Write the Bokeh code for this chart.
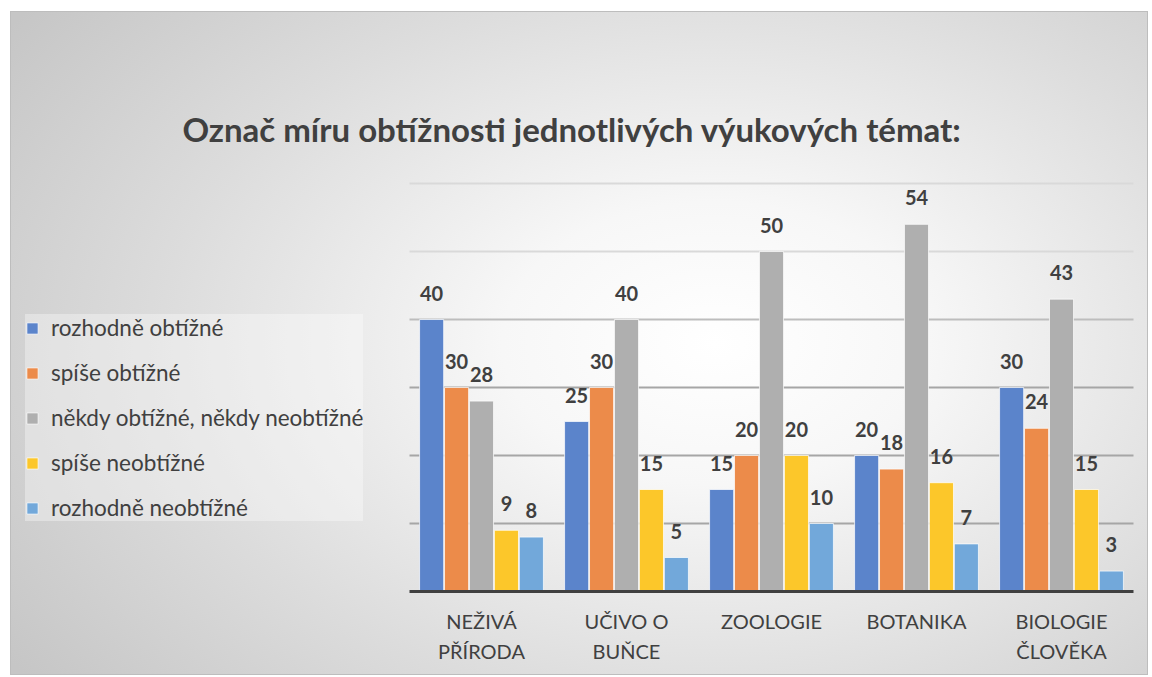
from bokeh.plotting import figure
from bokeh.models import (Range1d, ColumnDataSource, Legend, LegendItem,
                          FixedTicker, Grid)
from bokeh.transform import dodge
from bokeh.core.properties import value
from bokeh.embed import file_html
from bokeh.resources import INLINE

categories = ["NEŽIVÁ\nPŘÍRODA", "UČIVO O\nBUŇCE", "ZOOLOGIE", "BOTANIKA", "BIOLOGIE\nČLOVĚKA"]
series_names = ["rozhodně obtížné", "spíše obtížné", "někdy obtížné, někdy neobtížné",
                "spíše neobtížné", "rozhodně neobtížné"]
rozhodne_obtizne = [40, 25, 15, 20, 30]
spise_obtizne = [30, 30, 20, 18, 24]
nekdy = [28, 40, 50, 54, 43]
spise_neobtizne = [9, 15, 20, 16, 15]
rozhodne_neobtizne = [8, 5, 10, 7, 3]
title_text = "Označ míru obtížnosti jednotlivých výukových témat:"
grid_ticks_dark = [10, 20, 30]
grid_ticks_mid = [40]
grid_ticks_light = [50, 60]

colors = ["#5B84CB", "#EC8B4A", "#AFAFAF", "#FCC72A", "#72A8DA"]
series = [rozhodne_obtizne, spise_obtizne, nekdy, spise_neobtizne, rozhodne_neobtizne]
keys = ["s0", "s1", "s2", "s3", "s4"]

idx = list(range(len(categories)))
data = {"xi": idx}
for k, s in zip(keys, series):
    data[k] = s
    data[k + "_lbl"] = [str(v) for v in s]
src = ColumnDataSource(data)

FONT = "Lato"
TXT = "#404040"

# canvas geometry (figure shifted by CSS margin to 10, 11)
W, H = 1138, 664
PX_PER_CAT = 145.0
X0 = 471.0           # canvas x of first category centre
FR = 1123            # frame right (canvas)
FB = 580             # frame bottom (canvas)
PX_PER_UNIT_Y = 6.8
Y_END = 60.3
FT = FB - PX_PER_UNIT_Y * Y_END

p = figure(width=W, height=H,
           x_range=Range1d(-X0 / PX_PER_CAT, (FR - X0) / PX_PER_CAT),
           y_range=Range1d(0, Y_END),
           output_backend="svg", toolbar_location=None,
           min_border_left=0, min_border_right=W - FR,
           min_border_top=int(round(FT)), min_border_bottom=H - FB)
p.border_fill_color = None
p.background_fill_color = None
p.outline_line_color = None
p.styles = {
    "margin-left": "10px",
    "margin-top": "11px",
    "background": "radial-gradient(ellipse 75% 85% at 62% 50%, #ffffff 0%, #f7f7f7 25%, #dcdcdc 65%, #c6c6c6 100%)",
    "box-shadow": "inset 0 0 0 1px #bdbdbd",
}

p.xgrid.visible = False
p.ygrid.visible = False
for ticks, col in [(grid_ticks_dark, "#a6a6a6"), (grid_ticks_mid, "#bdbdbd"), (grid_ticks_light, "#d9d9d9")]:
    g = Grid(dimension=1, ticker=FixedTicker(ticks=ticks), grid_line_color=col,
             grid_line_width=2, cross_bounds=(-0.5, 4.5))
    p.add_layout(g)

bw = 0.172
offsets = [-2 * bw, -bw, 0, bw, 2 * bw]
items = []
for k, off, col, name in zip(keys, offsets, colors, series_names):
    r = p.vbar(x=dodge("xi", off), top=k, width=bw - 0.006, source=src,
               fill_color=col, line_color="white", line_alpha=0.7, line_width=1)
    p.text(x=dodge("xi", off), y=k, text=k + "_lbl", source=src,
           text_align="center", text_baseline="bottom", y_offset=-19,
           text_font=value(FONT), text_font_style="bold", text_font_size="20px", text_color=TXT)
    items.append(LegendItem(label=name, renderers=[r]))

p.yaxis.visible = False

ax = p.xaxis[0]
ax.ticker = FixedTicker(ticks=idx)
ax.major_label_overrides = {i: c for i, c in zip(idx, categories)}
ax.bounds = (-0.5, 4.5)
ax.axis_line_color = "#404040"
ax.axis_line_width = 3
ax.major_tick_line_color = None
ax.minor_tick_line_color = None
ax.major_label_text_font = FONT
ax.major_label_text_font_size = "20px"
ax.major_label_text_line_height = 1.25
ax.major_label_text_color = TXT
ax.major_label_standoff = 11

legend = Legend(items=items, location=(15, 70), orientation="vertical",
                glyph_width=14, glyph_height=14, label_height=26, spacing=18,
                label_standoff=12, padding=12, margin=0,
                label_text_font=FONT, label_text_font_size="22.5px", label_text_color=TXT,
                background_fill_color="white", background_fill_alpha=0.35,
                border_line_color=None)
p.add_layout(legend)

p.title.text = title_text
p.title.align = "center"
p.title.standoff = 66
p.title.text_font = FONT
p.title.text_font_style = "bold"
p.title.text_font_size = "33px"
p.title.text_color = TXT

open("out.html", "w").write(file_html(p, INLINE))
